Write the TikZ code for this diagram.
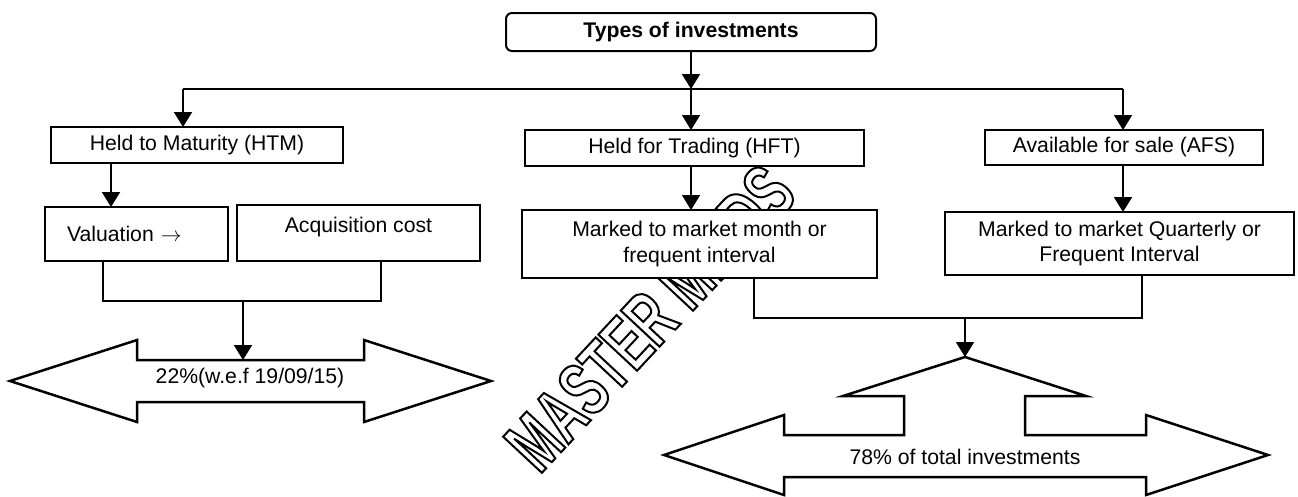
\documentclass[tikz,border=0pt]{standalone}
\usepackage{fontspec}
\setmainfont{Liberation Sans}
\newfontfamily\markfont{Liberation Sans Bold}[FakeStretch = 0.64]
\usetikzlibrary{arrows.meta}

\begin{document}
\begin{tikzpicture}[
    x = 1pt, y = -1pt,
    font = \fontsize{21.2}{25.5}\selectfont,
    box/.style = {
      draw = black,
      fill = white,
      inner sep = 0pt,
      outer sep = 0pt,
      align = center
    },
    head/.style = {
      -{Triangle[width = 18pt, length = 15pt]}
    },
    every path/.style = {
      line width = 2pt
    }
  ]
  \useasboundingbox (0, 0) rectangle (1298, 496);

  \node[rotate = 47, inner sep = 0pt, font = \fontsize{77}{77}\markfont] (mark) at (650, 318)
    {\special{pdf:code q 1 Tr 2 w}MASTER MINDS\special{pdf:code Q}};

  \node[box, rounded corners = 6pt, minimum width = 370pt, minimum height = 38pt] (types) at (691, 32) {\bfseries Types of investments};

  \node[box, minimum width = 292pt, minimum height = 36pt] (htm) at (197, 145) {Held to Maturity (HTM)};
  \node[box, minimum width = 339pt, minimum height = 36pt] (hft) at (694.5, 148) {Held for Trading (HFT)};
  \node[box, minimum width = 278pt, minimum height = 35pt] (afs) at (1124, 147.5) {Available for sale (AFS)};

  \node[box, inner xsep = 22pt, text width = 139pt, align = left, minimum height = 54pt] (valuation) at (136.5, 234) {Valuation $\rightarrow$};
  \node[box, line width = 2.8pt, text depth = 17pt, minimum width = 243pt, minimum height = 56pt] (cost) at (358.5, 233) {Acquisition cost};
  \node[box, line width = 2.8pt, minimum width = 355pt, minimum height = 68pt] (hftmark) at (699.5, 244) {Marked to market month or\\ frequent interval};
  \node[box, line width = 2.8pt, minimum width = 349pt, minimum height = 63pt] (afsmark) at (1119.5, 243.5) {Marked to market Quarterly or\\ Frequent Interval};

  \foreach \n/\x in {htm/183, hft/691, afs/1123} {
    \coordinate (bar\n) at (\x, 89);
    \draw[head] (bar\n) -- (bar\n |- \n.north);
  }
  \draw (barhtm) -- (barafs);
  \draw[head] (types) -- (barhft);

  \coordinate (colhtm) at (111, 0);
  \draw[head] (colhtm |- htm.south) -- (colhtm |- valuation.north);
  \draw[head] (barhft |- hft.south) -- (barhft |- hftmark.north);
  \draw[head] (barafs |- afs.south) -- (barafs |- afsmark.north);

  \coordinate (joinl) at (243, 301);
  \coordinate (topl) at (243, 360);
  \draw ([xshift = -33.5pt] valuation.south) |- (joinl) -| ([xshift = 22.5pt] cost.south);
  \draw[head] (joinl) -- (topl);

  \coordinate (joinr) at (965, 318);
  \coordinate (topr) at (965, 357);
  \draw ([xshift = 54.5pt] hftmark.south) |- (joinr) -| ([xshift = 22.5pt] afsmark.south);
  \draw[head] (joinr) -- (topr);

  \draw[line width = 2.5pt] (10, 381) -- (137, 340) -- (137, 360) -- (364, 360) -- (364, 340) -- (491, 381)
    -- (364, 422) -- (364, 402) -- (137, 402) -- (137, 422) -- cycle;
  \node (pctl) at (250, 378) {22\%(w.e.f 19/09/15)};

  \draw[line width = 2.5pt] (topr) -- (1086, 396) -- (1025, 396) -- (1025, 435) -- (1146, 435) -- (1146, 415)
    -- (1268, 455) -- (1146, 495) -- (1146, 477) -- (784, 477) -- (784, 495) -- (664, 455) -- (784, 415)
    -- (784, 435) -- (904, 435) -- (904, 396) -- (843, 396) -- cycle;
  \node (pctr) at (965, 457) {78\% of total investments};
\end{tikzpicture}
\end{document}
